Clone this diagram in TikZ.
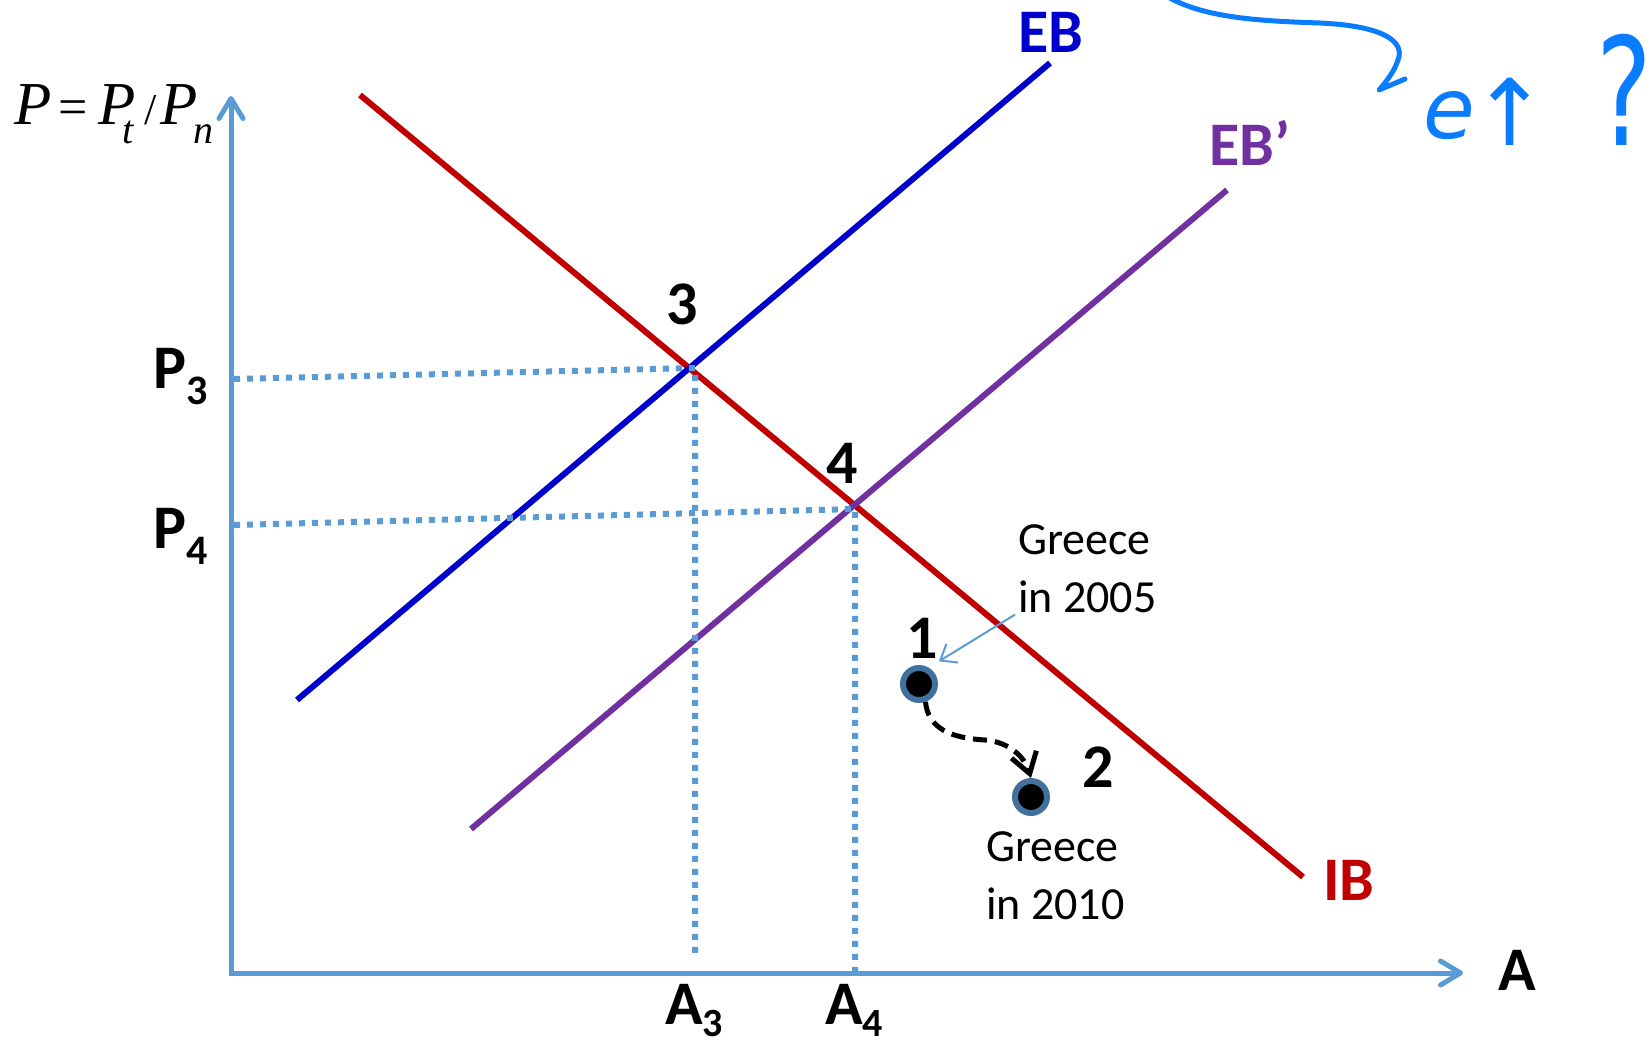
\documentclass[tikz,border=0pt]{standalone}
\usepackage{fontspec}
\setmainfont{Carlito}
\newfontfamily\tnr{Liberation Serif}
\newfontfamily\dvs{DejaVu Sans}
\usetikzlibrary{arrows.meta}
\definecolor{ibred}{HTML}{C00000}
\definecolor{ebblue}{HTML}{0000CC}
\definecolor{ebpurple}{HTML}{7030A0}
\definecolor{axisblue}{HTML}{5B9BD5}
\definecolor{dotring}{HTML}{41719C}
\definecolor{inkblue}{HTML}{0A7CFF}
\begin{document}
\begin{tikzpicture}[x=1pt,y=-1pt,
  big/.style={font=\fontsize{62}{62}\selectfont\bfseries, inner sep=0pt},
  curveline/.style={line width=6pt},
  axisline/.style={line width=5pt, draw=axisblue, line cap=round},
  guide/.style={draw=axisblue, line width=6pt, dash pattern=on 6pt off 7pt},
  dotnode/.style={circle, fill=black, draw=dotring, line width=6pt, minimum size=32pt, inner sep=0pt},
  note/.style={font=\fontsize{46}{58}\selectfont, align=left, inner sep=0pt},
  ink/.style={draw=inkblue, line width=5pt, line cap=round, line join=round},
]
\useasboundingbox (0,0) rectangle (1650,1044);
% axes
\coordinate (O) at (231,973);
\coordinate (ytip) at (231,96);
\coordinate (xtip) at (1463,973);
\draw[axisline, {Straight Barb[length=20pt,width=24pt,line width=5pt,round]}-{Straight Barb[length=20pt,width=24pt,line width=5pt,round]}] (ytip) -- (O) -- (xtip);
% curves
\draw[ibred, curveline] (360,95) -- (1303,877);
\draw[ebblue, curveline] (297,700) -- (1050,63);
\draw[ebpurple, curveline] (471,829) -- (1227,190);
% guide lines
\coordinate (p3ax) at (234,379);
\coordinate (q3) at (695,368);
\coordinate (q3b) at (695,957);
\coordinate (p4ax) at (234,525);
\coordinate (q4) at (855,509);
\coordinate (q4b) at (855,973);
\draw[guide] (p3ax) -- (q3) -- (q3b);
\draw[guide] (p4ax) -- (q4) -- (q4b);
% labels
\node[big, text=ebblue] (lEB) at (1051,32) {EB};
\node[big, text=ebpurple] (lEBp) at (1250,143) {EB’};
\node[big, text=ibred] (lIB) at (1349,880) {IB};
\node[big] (lA) at (1517,970) {A};
\node[big] (n3) at (682,304) {3};
\node[big] (n4) at (842,463) {4};
\node[big] (n1) at (922,638) {1};
\node[big] (n2) at (1098,767) {2};
\node[big, anchor=base west] (lP3) at (153,388) {P\raisebox{-16pt}{\fontsize{42}{42}\selectfont 3}};
\node[big, anchor=base west] (lP4) at (153,548) {P\raisebox{-16pt}{\fontsize{42}{42}\selectfont 4}};
\node[big, anchor=base west] (lA3) at (665,1024) {A\raisebox{-12pt}{\fontsize{40}{40}\selectfont 3}};
\node[big, anchor=base west] (lA4) at (825,1024) {A\raisebox{-12pt}{\fontsize{40}{40}\selectfont 4}};
\node[anchor=base west, inner sep=0pt, font=\tnr\fontsize{61}{61}\selectfont] (lP) at (14,124)
  {\makebox[44pt][l]{\itshape P}%
   \makebox[40pt][l]{\fontsize{52}{52}\selectfont =}%
   \makebox[24pt][l]{\itshape P}%
   \makebox[22pt][l]{\raisebox{-19pt}{\fontsize{40}{40}\selectfont\itshape t}}%
   \makebox[16pt][l]{\fontsize{44}{44}\selectfont /}%
   \makebox[33pt][l]{\itshape P}%
   \raisebox{-19pt}{\fontsize{40}{40}\selectfont\itshape n}};
% Greece notes
\node[note, anchor=north west] (g05) at (1018,524) {Greece\\in 2005};
\node[note, anchor=north west] (g10) at (986,831) {Greece\\in 2010};
% dots
\node[dotnode] (d1) at (919,684) {};
\node[dotnode] (d2) at (1031,797) {};
\draw[axisblue, line width=2pt, -{Straight Barb[length=14pt,width=22pt,line width=2pt]}]
  ([shift={(-3,2)}]g05.south west) -- ([shift={(1,3)}]n1.south east);
\draw[line width=5pt, dash pattern=on 14pt off 8pt, -{Straight Barb[length=20pt,width=26pt,line width=5pt]}]
  (d1.-70) .. controls (928,728) and (950,738) .. (985,740) .. controls (1010,742) and (1025,758) .. (d2.north);
% handwriting
\draw[ink] (1168,-3) .. controls (1205,18) and (1260,21) .. (1320,23) .. controls (1385,26) and (1405,42) .. (1398,60) .. controls (1394,72) and (1386,82) .. (1379,90) -- (1405,79);
\node[text=inkblue, inner sep=0pt, font=\dvs\itshape\fontsize{84}{84}\selectfont] (he) at (1449,116) {e};
\node[text=inkblue, inner sep=0pt, font=\dvs\fontsize{92}{92}\selectfont] (harrow) at (1510,112) {\makebox[44pt][c]{↑}};
\node[text=inkblue, inner sep=0pt, xscale=0.7, font=\dvs\fontsize{150}{150}\selectfont] (hq) at (1624,90) {?};
\end{tikzpicture}
\end{document}
